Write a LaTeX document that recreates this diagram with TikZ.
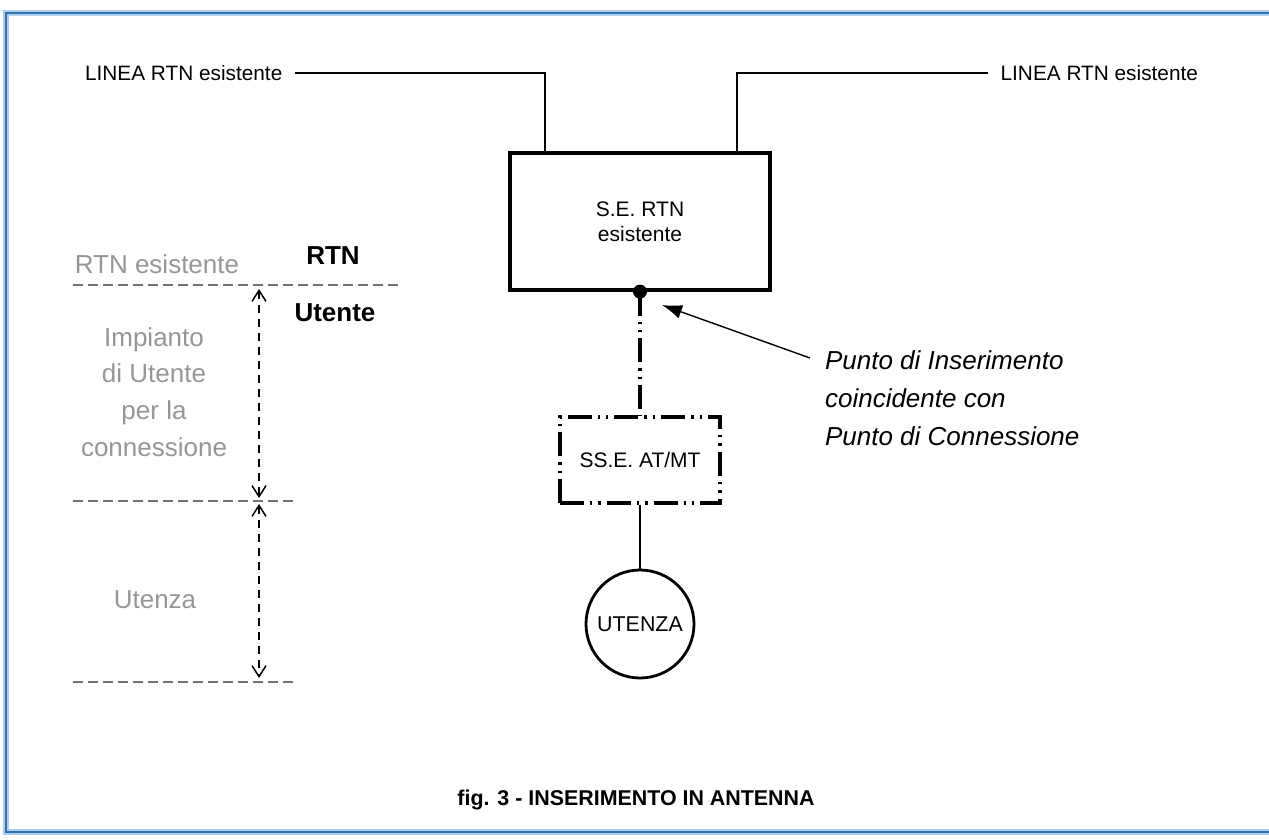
\documentclass[tikz,border=0pt]{standalone}
\usepackage{fontspec}
\setmainfont{Liberation Sans}
\usepackage{tikz}
\usetikzlibrary{arrows.meta,shapes}

\definecolor{framblue}{RGB}{46,117,182}
\definecolor{framlight}{RGB}{175,205,232}
\definecolor{txtgrey}{RGB}{150,150,150}
\definecolor{lingrey}{RGB}{115,115,115}

\begin{document}
\begin{tikzpicture}[x=0.5pt,y=-0.5pt]

	\tikzset{lbl/.style = {font=\fontsize{10.4pt}{12pt}\selectfont}}
	\tikzset{grey/.style = {text=txtgrey,font=\fontsize{13pt}{18.3pt}\selectfont,align=center}}
	\tikzset{bold/.style = {font=\fontsize{13pt}{15pt}\selectfont\bfseries}}
	\tikzset{station/.style = {shape=rectangle,draw,line width=1.6pt,minimum width=130pt,minimum height=68.5pt,inner sep=0pt,align=center,font=\fontsize{10.5pt}{12.5pt}\selectfont}}
	\tikzset{subst/.style = {shape=rectangle,draw,line width=1.6pt,dddash,minimum width=80pt,minimum height=43pt,inner sep=0pt,font=\fontsize{10.5pt}{12pt}\selectfont}}
	\tikzset{load/.style = {shape=circle,draw,line width=1.4pt,minimum size=54pt,inner sep=0pt,font=\fontsize{10.7pt}{12pt}\selectfont}}
	\tikzset{note/.style = {align=left,font=\fontsize{13pt}{19pt}\selectfont\itshape}}
	\tikzset{wire/.style = {line width=1.4pt}}
	\tikzset{dddash/.style = {dash pattern=on 12pt off 3pt on 1.2pt off 3pt on 1.2pt off 3pt}}
	\tikzset{sepline/.style = {lingrey,line width=0.7pt,dash pattern=on 5pt off 2.5pt}}
	\tikzset{dimen/.style = {line width=0.75pt,dash pattern=on 4pt off 3pt,{Straight Barb[length=5.5pt,width=7pt]}-{Straight Barb[length=5.5pt,width=7pt]}}}
	\tikzset{pointer/.style = {line width=0.7pt,-{Latex[length=10pt,width=7pt]}}}

	\useasboundingbox (0,0) rectangle (1269,840);

	% frame
	\draw[framlight,line width=3pt] (1269,13) -- (6,13) -- (6,832) -- (1269,832);
	\draw[framblue,line width=1.4pt] (1269,13) -- (6,13) -- (6,832) -- (1269,832);

	% network
	\node[lbl,anchor=west] (l1) at (78,73) {LINEA RTN esistente};
	\node[lbl,anchor=east] (l2) at (1205,73) {LINEA RTN esistente};
	\node[station] (se) at (640,221.5) {S.E. RTN\\esistente};
	\node[subst] (ss) at (640,460) {SS.E. AT/MT};
	\node[load] (ut) at (640,624) {UTENZA};
	\coordinate (pc) at (se.south);

	\draw[wire] ([xshift=3pt]l1.east) -- (545,73) -- (545,73 |- se.north);
	\draw[wire] ([xshift=-3pt]l2.west) -- (737,73) -- (737,73 |- se.north);
	\draw[line width=1.6pt,dddash] (pc) -- (ss.north);
	\draw[wire] (ss.south) -- (ut.north);
	\fill (pc) circle (3.5pt);

	% insertion point
	\node[note,anchor=west] (punto) at (818,398) {Punto di Inserimento\\coincidente con\\Punto di Connessione};
	\coordinate (tail) at (810,358);
	\coordinate (tip) at (662,305);
	\draw[pointer] (tail) -- (tip);

	% boundaries
	\node[grey] (rtnes) at (157,264) {RTN esistente};
	\node[bold] (rtn) at (333,256) {RTN};
	\node[bold] (uten) at (335,313) {Utente};
	\node[grey] (imp) at (154,392) {Impianto\\di Utente\\per la\\connessione};
	\node[grey] (utz) at (155,600) {Utenza};
	\draw[sepline] (73,285) -- (400,285);
	\draw[sepline] (73,501) -- (298,501);
	\draw[sepline] (73,682) -- (298,682);
	\coordinate (a1) at (259,289);
	\coordinate (a2) at (259,498);
	\coordinate (a3) at (259,504);
	\coordinate (a4) at (259,678);
	\draw[dimen] (a1) -- (a2);
	\draw[dimen] (a3) -- (a4);

	\node[font=\fontsize{10.7pt}{12pt}\selectfont\bfseries] (cap) at (636,800) {fig. 3 - INSERIMENTO IN ANTENNA};
\end{tikzpicture}
\end{document}
